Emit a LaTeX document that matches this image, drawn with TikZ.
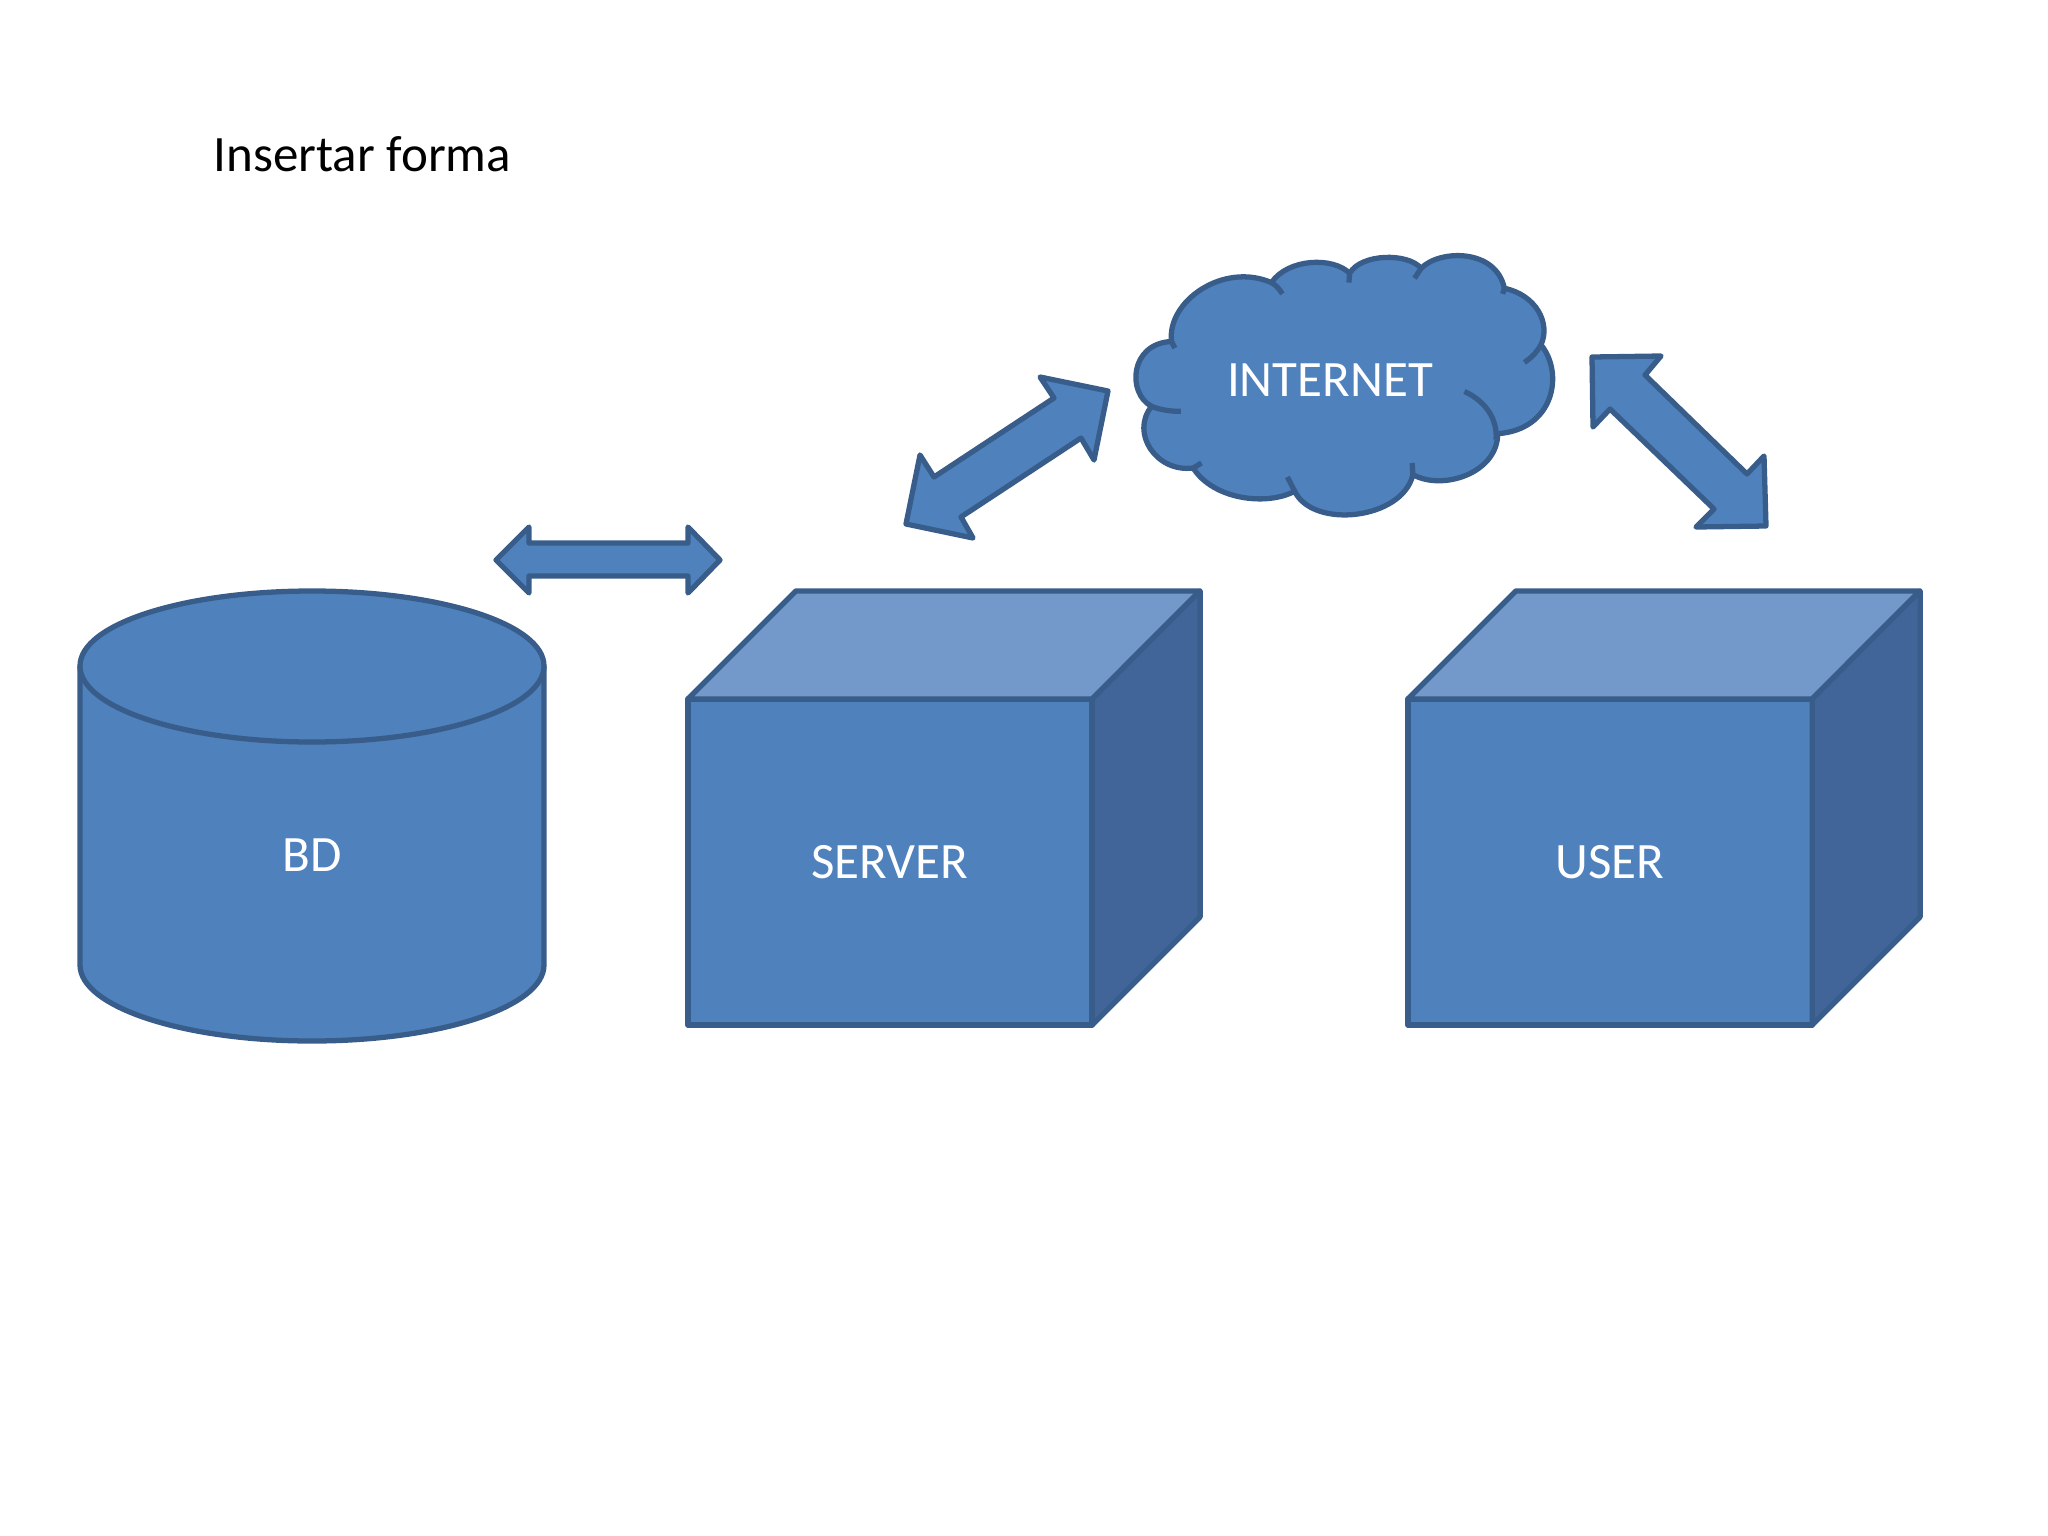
\documentclass[tikz,border=0pt]{standalone}
\usepackage{fontspec}
\setmainfont{Carlito}
\usepackage{xcolor}
\definecolor{accent}{RGB}{79,129,189}
\definecolor{accentdark}{RGB}{56,93,138}
\definecolor{accenttop}{RGB}{114,153,201}
\definecolor{accentside}{RGB}{65,101,152}
\usetikzlibrary{calc}
\tikzset{
  shape3d/.style={fill=accent,draw=accentdark,line width=1.5pt,line join=round},
  blockarrow/.style={fill=accent,draw=accentdark,line width=1.5pt,line join=round},
  label/.style={font=\fontsize{14.5}{17}\selectfont,text=white,inner sep=0pt},
  front/.style={shape3d,rectangle,minimum width=40.4mm,minimum height=32.6mm,inner sep=0pt,outer sep=0pt,%
    label,draw=accentdark},
}
\begin{document}
\begin{tikzpicture}[x=0.01cm,y=-0.01cm]
\useasboundingbox (0,0) rectangle (2048,1536);
\node[anchor=west,inner sep=0pt,font=\fontsize{14.5}{17}\selectfont] (title) at (213,154) {Insertar forma};
% cylinder
\draw[shape3d] (80,666) -- (80,965) .. controls (80,1007) and (184,1041) .. (312,1041)
  .. controls (440,1041) and (544,1007) .. (544,965) -- (544,666)
  .. controls (544,624) and (440,591) .. (312,591) .. controls (184,591) and (80,624) .. (80,666) -- cycle;
\draw[shape3d] (80,666) .. controls (80,708) and (184,742) .. (312,742) .. controls (440,742) and (544,708) .. (544,666);
\node[label] (bd) at (312,855) {BD};
% boxes
\foreach \boxname/\boxx/\boxtext in {server/890/SERVER,user/1610/USER}{
  \node[front] (\boxname) at (\boxx,862) {\boxtext};
  \draw[shape3d,fill=accenttop] (\boxname.north west) -- ++(108,-108) -- ++(404,0)
    -- ($(\boxname.north east)$) -- cycle;
  \draw[shape3d,fill=accentside] (\boxname.north east) -- ++(108,-108) -- ++(0,326)
    -- (\boxname.south east) -- cycle;
}
% arrows
\draw[blockarrow] (496,560) -- (529,527) -- (529,543) -- (688,543) -- (688,527) -- (720,560)
  -- (688,593) -- (688,576) -- (529,576) -- (529,593) -- cycle;
\draw[blockarrow] (1108,391) -- (1040,377) -- (1054,398) -- (934,477) -- (920,455) -- (906,524)
  -- (973,538) -- (961,517) -- (1081,438) -- (1094,460) -- cycle;
\draw[blockarrow] (1592,357) -- (1661,356) -- (1645,375) -- (1747,474) -- (1764,456) -- (1766,526)
  -- (1696,527) -- (1714,509) -- (1610,409) -- (1593,427) -- cycle;
% cloud
\begin{scope}[shift={(1100,230)},x=0.00333cm,y=-0.00333cm]
\draw[blockarrow] (215,335) .. controls (200,215) and (370,95) .. (515,158)
  .. controls (565,85) and (700,80) .. (750,130)
  .. controls (785,70) and (925,68) .. (965,115)
  .. controls (1020,58) and (1190,55) .. (1215,175)
  .. controls (1310,195) and (1355,280) .. (1325,345)
  .. controls (1395,430) and (1365,600) .. (1195,612)
  .. controls (1195,730) and (1030,785) .. (940,735)
  .. controls (910,870) and (640,900) .. (585,785)
  .. controls (500,830) and (340,810) .. (280,715)
  .. controls (170,730) and (90,610) .. (155,530)
  .. controls (80,490) and (90,340) .. (215,335) -- cycle;
\draw[blockarrow,fill=none] (215,335) -- (225,355);
\draw[blockarrow,fill=none] (515,158) .. controls (528,165) and (538,176) .. (548,192);
\draw[blockarrow,fill=none] (750,130) -- (748,158);
\draw[blockarrow,fill=none] (965,115) -- (945,145);
\draw[blockarrow,fill=none] (1215,175) -- (1210,192);
\draw[blockarrow,fill=none] (1325,345) .. controls (1312,368) and (1295,385) .. (1275,398);
\draw[blockarrow,fill=none] (1095,485) .. controls (1160,515) and (1195,570) .. (1190,630);
\draw[blockarrow,fill=none] (940,735) -- (938,700);
\draw[blockarrow,fill=none] (585,785) -- (563,742);
\draw[blockarrow,fill=none] (280,715) -- (305,700);
\draw[blockarrow,fill=none] (155,530) .. controls (180,540) and (210,545) .. (243,545);
\end{scope}
\node[label] (internet) at (1330,380) {INTERNET};
\end{tikzpicture}
\end{document}
